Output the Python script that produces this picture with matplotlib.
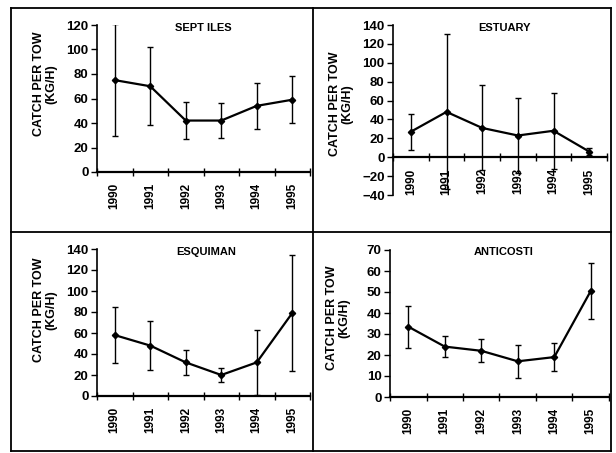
import matplotlib
matplotlib.use("Agg")
import matplotlib.pyplot as plt
from matplotlib.lines import Line2D
from matplotlib.ticker import FixedLocator, MultipleLocator

plt.rcParams['font.family'] = ['Liberation Sans', 'DejaVu Sans']

years = ["1990", "1991", "1992", "1993", "1994", "1995"]

sept_mean = [75, 70, 42, 42, 54, 59]
sept_err = [46, 32, 15, 14, 19, 19]

estuary_mean = [27, 48, 31, 23, 28, 6]
estuary_err = [19, 82, 45, 40, 40, 4]

esquiman_mean = [58, 48, 32, 20, 32, 79]
esquiman_err = [27, 23, 12, 7, 31, 55]

anticosti_mean = [33.5, 24, 22, 17, 19, 50.5]
anticosti_err = [10, 5, 5.5, 8, 6.5, 13.5]

W, H = 616, 453
fig = plt.figure(figsize=(W / 100, H / 100), dpi=100)


def px_axes(left, right, top, bottom):
    return fig.add_axes([left / W, 1 - bottom / H, (right - left) / W, (bottom - top) / H])


panels = [
    dict(title="SEPT ILES", mean=sept_mean, err=sept_err, box=(97, 310, 25, 172),
         ylim=(0, 120), step=20, title_xy=(203, 28), ylab_xy=(45, 84)),
    dict(title="ESTUARY", mean=estuary_mean, err=estuary_err, box=(393, 607, 25, 195),
         ylim=(-40, 140), step=20, title_xy=(504, 28), ylab_xy=(341, 104)),
    dict(title="ESQUIMAN", mean=esquiman_mean, err=esquiman_err, box=(97, 310, 249, 396),
         ylim=(0, 140), step=20, title_xy=(206, 252), ylab_xy=(45, 310)),
    dict(title="ANTICOSTI", mean=anticosti_mean, err=anticosti_err, box=(390, 609, 250, 397),
         ylim=(0, 70), step=10, title_xy=(504, 252), ylab_xy=(338, 318)),
]

for p in panels:
    ax = px_axes(*p["box"])
    x = list(range(len(years)))
    ax.errorbar(x, p["mean"], yerr=p["err"], fmt='none', ecolor='black',
                elinewidth=1.0, capsize=2.5, capthick=1.0, zorder=2)
    ax.plot(x, p["mean"], color='black', linewidth=1.6, marker='D',
            markersize=3.2, markerfacecolor='black', zorder=3)
    ax.set_xlim(-0.5, len(years) - 0.5)
    ax.set_ylim(*p["ylim"])
    for s in ("top", "right"):
        ax.spines[s].set_visible(False)
    ax.spines["left"].set_linewidth(1.2)
    ax.spines["bottom"].set_linewidth(1.6)
    if p["ylim"][0] < 0:
        ax.spines["bottom"].set_position(("data", 0))
    ax.patch.set_alpha(0)
    ax.xaxis.set_major_locator(FixedLocator(x))
    ax.xaxis.set_minor_locator(FixedLocator([i - 0.5 for i in range(len(years) + 1)]))
    ax.set_xticklabels(years, rotation=90, fontsize=8.5, fontweight='bold')
    ax.tick_params(axis='x', which='major', length=0, pad=8)
    ax.tick_params(axis='x', which='minor', direction='inout', length=6, width=1.0)
    ax.yaxis.set_major_locator(MultipleLocator(p["step"]))
    ax.tick_params(axis='y', which='major', direction='out', length=4, width=1.0,
                   labelsize=9.5, pad=2)
    for lab in ax.get_yticklabels():
        lab.set_fontweight('bold')
    fig.text(p["title_xy"][0] / W, 1 - p["title_xy"][1] / H, p["title"],
             ha='center', va='center', fontsize=8, fontweight='bold')
    fig.text(p["ylab_xy"][0] / W, 1 - p["ylab_xy"][1] / H, "CATCH PER TOW\n(KG/H)",
             ha='center', va='center', rotation=90, fontsize=9, fontweight='bold',
             linespacing=1.1)

# panel frame lines
lw = 1.3
xl, xm, xr = 11 / W, 313 / W, 611 / W
yt, ym, yb = 1 - 8 / H, 1 - 232 / H, 1 - 451 / H
for (x0, x1, y0, y1) in [(xl, xr, yt, yt), (xl, xr, ym, ym), (xl, xr, yb, yb),
                         (xl, xl, yb, yt), (xm, xm, yb, yt), (xr, xr, yb, yt)]:
    fig.add_artist(Line2D([x0, x1], [y0, y1], color='black', linewidth=lw))

fig.savefig("out.png", dpi=100)
